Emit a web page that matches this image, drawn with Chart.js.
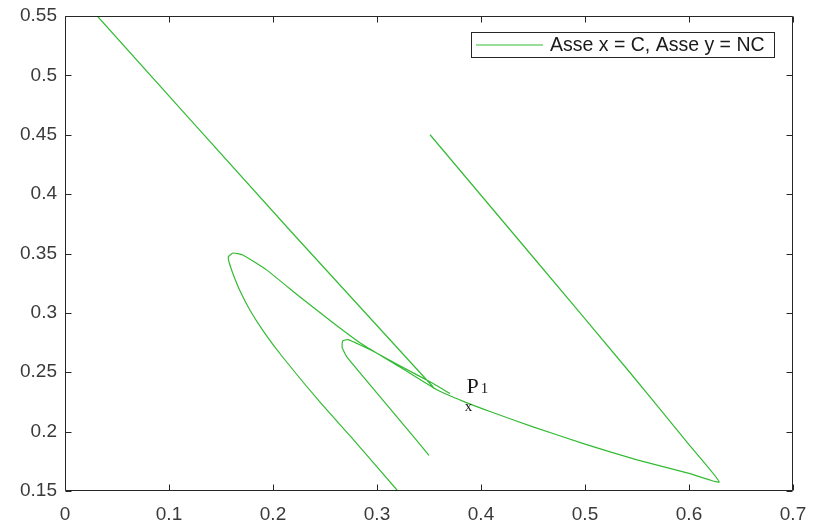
<!DOCTYPE html>
<html>
<head>
<meta charset="utf-8">
<script src="https://cdn.jsdelivr.net/npm/chart.js@4/dist/chart.umd.min.js"></script>
<style>
  html, body { margin: 0; padding: 0; background: #ffffff; }
  #c { display: block; }
</style>
</head>
<body>
<canvas id="c" width="814" height="524"></canvas>
<script>
// Axis ticks
const xTicks = [0, 0.1, 0.2, 0.3, 0.4, 0.5, 0.6, 0.7];
const yTicks = [0.15, 0.2, 0.25, 0.3, 0.35, 0.4, 0.45, 0.5, 0.55];

// Branch 1: straight segment coming down from the top edge
const upperX = [0.031, 0.216, 0.354];
const upperY = [0.55, 0.3698, 0.2376];

// Branch 2: right segment -> right cusp -> back through P1 -> large loop -> bottom edge
const mainX = [0.351, 0.451, 0.543, 0.600, 0.629, 0.600, 0.550, 0.500, 0.450, 0.410, 0.383, 0.358, 0.322, 0.285, 0.258, 0.226, 0.194, 0.171, 0.1615, 0.157, 0.158, 0.1615, 0.168, 0.178, 0.192, 0.210, 0.245, 0.275, 0.32];
const mainY = [0.45, 0.346, 0.250, 0.189, 0.1576, 0.1648, 0.1762, 0.1895, 0.2040, 0.2165, 0.2255, 0.235, 0.2544, 0.274, 0.2915, 0.3134, 0.336, 0.3487, 0.3504, 0.347, 0.342, 0.333, 0.319, 0.302, 0.283, 0.262, 0.225, 0.1955, 0.15];

// Branch 3: small cusp
const cuspX = [0.35, 0.325, 0.300, 0.271, 0.2665, 0.267, 0.272, 0.285, 0.30, 0.322, 0.354, 0.37];
const cuspY = [0.18, 0.2064, 0.2325, 0.263, 0.271, 0.2763, 0.2775, 0.2725, 0.266, 0.2555, 0.2405, 0.232];

// Marked point P1
const p1X = [0.388];
const p1Y = [0.2207];

const seriesLabel = 'Asse x = C, Asse y = NC';
const lineColor = '#33bb33';
const axisColor = '#262626';
const labelColor = '#3a3a3a';
const sansFamily = '"Liberation Sans", Arial, Helvetica, sans-serif';
const serifFamily = '"Liberation Serif", "DejaVu Serif", serif';

function joinBranches(branches) {
  const pts = [];
  branches.forEach((b, i) => {
    if (i > 0) pts.push({ x: null, y: null });
    b[0].forEach((v, j) => pts.push({ x: v, y: b[1][j] }));
  });
  return pts;
}

const fmt = v => String(Number(v.toFixed(2)));

// Box frame with inward tick marks on all four sides
const framePlugin = {
  id: 'frameTicks',
  afterDatasetsDraw(chart) {
    const { ctx, chartArea: a, scales } = chart;
    const L = Math.round(a.left) + 0.5, R = Math.round(a.right) - 0.5;
    const T = Math.round(a.top) + 0.5, B = Math.round(a.bottom) - 0.5;
    const len = 6;
    ctx.save();
    ctx.strokeStyle = axisColor;
    ctx.lineWidth = 1;
    ctx.beginPath();
    ctx.rect(L, T, R - L, B - T);
    xTicks.forEach(v => {
      const px = Math.round(scales.x.getPixelForValue(v)) + 0.5;
      ctx.moveTo(px, B); ctx.lineTo(px, B - len);
      ctx.moveTo(px, T); ctx.lineTo(px, T + len);
    });
    yTicks.forEach(v => {
      const py = Math.round(scales.y.getPixelForValue(v)) + 0.5;
      ctx.moveTo(L, py); ctx.lineTo(L + len, py);
      ctx.moveTo(R, py); ctx.lineTo(R - len, py);
    });
    ctx.stroke();
    ctx.restore();
  }
};

// P1 annotation: small x marker with subscripted label
const pointLabelPlugin = {
  id: 'pointLabel',
  afterDatasetsDraw(chart) {
    const { ctx, scales } = chart;
    const px = scales.x.getPixelForValue(p1X[0]);
    const py = scales.y.getPixelForValue(p1Y[0]);
    ctx.save();
    ctx.fillStyle = '#1a1a1a';
    ctx.textBaseline = 'alphabetic';
    ctx.textAlign = 'center';
    ctx.font = '15px ' + serifFamily;
    ctx.fillText('x', px, py + 3.5);
    ctx.textAlign = 'left';
    ctx.font = '22px ' + serifFamily;
    const left = px - 2, base = py - 14;
    ctx.fillText('P', left, base);
    const w = ctx.measureText('P').width;
    ctx.font = '15px ' + serifFamily;
    ctx.fillText('1', left + w + 2, base);
    ctx.restore();
  }
};

// Legend box inside the top-right corner of the axes
const legendPlugin = {
  id: 'boxLegend',
  afterDraw(chart) {
    const { ctx, chartArea: a } = chart;
    ctx.save();
    ctx.font = '19.5px ' + sansFamily;
    const tw = ctx.measureText(seriesLabel).width;
    const lineLen = 67, padL = 5, gap = 7, padR = 10;
    const right = Math.round(a.right) - 18;
    const top = Math.round(a.top) + 16;
    const h = 26;
    const w = padL + lineLen + gap + tw + padR;
    const left = Math.round(right - w);
    ctx.fillStyle = '#ffffff';
    ctx.fillRect(left, top, right - left, h);
    ctx.strokeStyle = axisColor;
    ctx.lineWidth = 1;
    ctx.strokeRect(left + 0.5, top + 0.5, right - left - 1, h - 1);
    const cy = top + h / 2;
    ctx.strokeStyle = lineColor;
    ctx.lineWidth = 1.2;
    ctx.beginPath();
    ctx.moveTo(left + padL, cy);
    ctx.lineTo(left + padL + lineLen, cy);
    ctx.stroke();
    ctx.fillStyle = '#1a1a1a';
    ctx.textBaseline = 'middle';
    ctx.textAlign = 'left';
    ctx.fillText(seriesLabel, left + padL + lineLen + gap, cy + 1);
    ctx.restore();
  }
};

new Chart(document.getElementById('c'), {
  type: 'scatter',
  data: {
    datasets: [{
      label: seriesLabel,
      data: joinBranches([[upperX, upperY], [mainX, mainY], [cuspX, cuspY]]),
      showLine: true,
      spanGaps: false,
      borderColor: lineColor,
      borderWidth: 1.2,
      pointRadius: 0,
      pointHoverRadius: 0,
      tension: 0.15,
      fill: false
    }]
  },
  options: {
    responsive: false,
    animation: false,
    devicePixelRatio: 1,
    layout: { padding: { top: 16, right: 21, left: 0, bottom: 0 } },
    plugins: {
      legend: { display: false },
      tooltip: { enabled: false }
    },
    scales: {
      x: {
        type: 'linear',
        min: 0, max: 0.7,
        afterBuildTicks: s => { s.ticks = xTicks.map(v => ({ value: v })); },
        afterFit: s => { s.height = 33; },
        grid: { display: false },
        border: { display: false },
        ticks: {
          callback: v => fmt(v),
          color: labelColor,
          font: { family: sansFamily, size: 19 },
          padding: 4,
          maxRotation: 0,
          autoSkip: false
        }
      },
      y: {
        type: 'linear',
        min: 0.15, max: 0.55,
        afterBuildTicks: s => { s.ticks = yTicks.map(v => ({ value: v })); },
        afterFit: s => { s.width = 65; },
        grid: { display: false },
        border: { display: false },
        ticks: {
          callback: v => fmt(v),
          color: labelColor,
          font: { family: sansFamily, size: 19 },
          padding: 0,
          autoSkip: false
        }
      }
    }
  },
  plugins: [framePlugin, pointLabelPlugin, legendPlugin]
});
</script>
</body>
</html>
